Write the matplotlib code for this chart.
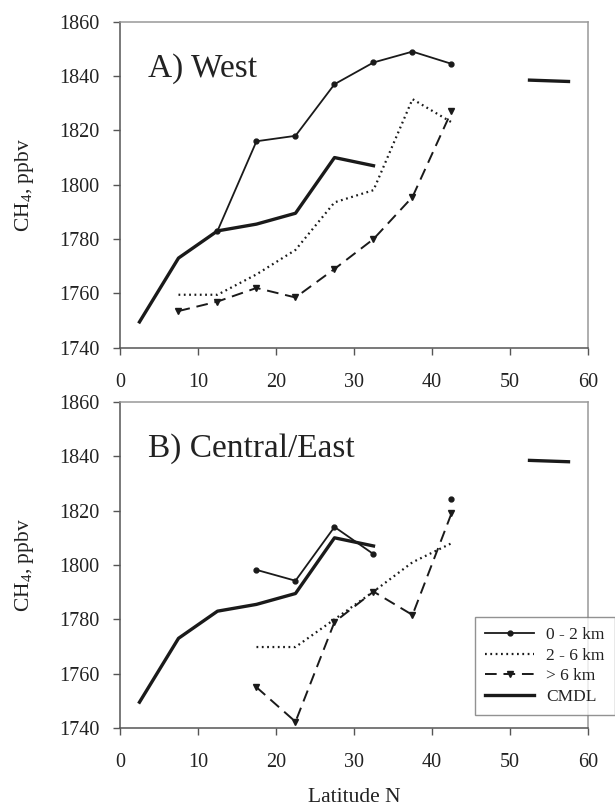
import numpy as np
import matplotlib.pyplot as plt

plt.rcParams['font.family'] = ['Liberation Serif', 'DejaVu Serif']
plt.rcParams['mathtext.fontset'] = 'custom'
plt.rcParams['mathtext.rm'] = 'Liberation Serif'

nan = np.nan
lat = [2.5, 7.5, 12.5, 17.5, 22.5, 27.5, 32.5, 37.5, 42.5, 47.5, 52.5, 57.5]

# CMDL background reference (same for both regions)
cmdl = [1749.5, 1773, 1783, 1785.5, 1789.5, 1810, 1807, nan, nan, nan, 1838.5, 1838]

# West
west_0_2 = [nan, nan, 1783, 1816, 1818, 1837, 1845, 1849, 1844.5, nan, nan, nan]
west_2_6 = [nan, 1759.5, 1759.5, 1767, 1776, 1793.5, 1798, 1831.5, 1823, nan, nan, nan]
west_6up = [nan, 1753.5, 1757, 1762, 1758.5, 1769, 1780, 1795.5, 1827, nan, nan, nan]

# Central/East
east_0_2 = [nan, nan, nan, 1798.2, 1794.2, 1814, 1804, nan, 1824.3, nan, nan, nan]
east_2_6 = [nan, nan, nan, 1769.8, 1769.8, 1780, 1790.2, 1801, 1808, nan, nan, nan]
east_6up = [nan, nan, nan, 1755, 1742.3, 1779, 1790.2, 1781.6, 1819, nan, nan, nan]

labels = ['0 - 2 km', '2 - 6 km', '> 6 km', 'CMDL']
xticks = [0, 10, 20, 30, 40, 50, 60]
yticks = [1740, 1760, 1780, 1800, 1820, 1840, 1860]

fig = plt.figure(figsize=(6.15, 8.07), dpi=100)
axA = fig.add_axes([0.1951, 0.5691, 0.761, 0.404])
axB = fig.add_axes([0.1951, 0.0979, 0.761, 0.404])


def panel(ax, s02, s26, s6, title):
    x = np.array(lat)
    h1, = ax.plot(x, s02, color='#1a1a1a', lw=1.3, marker='o', ms=3.5)
    h2, = ax.plot(x, s26, color='#1a1a1a', lw=1.6, ls=(0, (0.8, 1.6)))
    h3, = ax.plot(x, s6, color='#1a1a1a', lw=1.4, ls=(0, (6, 3.5)),
                  marker='v', ms=4)
    h4, = ax.plot(x, cmdl, color='#1a1a1a', lw=2.4)
    ax.set_xlim(0, 60)
    ax.set_ylim(1740, 1860)
    ax.set_xticks(xticks)
    ax.set_yticks(yticks)
    ax.tick_params(direction='out', length=5, width=1, color='#555555',
                   labelsize=14.5, pad=10, labelcolor='#222222')
    ax.tick_params(axis='x', pad=13)
    for side in ['left', 'bottom']:
        ax.spines[side].set_color('#555555')
        ax.spines[side].set_linewidth(1.1)
    for side in ['top', 'right']:
        ax.spines[side].set_color('#999999')
        ax.spines[side].set_linewidth(1.1)
    ax.set_ylabel('CH$_4$, ppbv', fontsize=15.5, color='#222222')
    ax.yaxis.set_label_coords(-0.18, 0.5)
    ax.text(3.6, 1839.7, title, fontsize=24, color='#222222', va='baseline')
    return [h1, h2, h3, h4]


panel(axA, west_0_2, west_2_6, west_6up, 'A) West')
handles = panel(axB, east_0_2, east_2_6, east_6up, 'B) Central/East')
axB.set_xlabel('Latitude N', fontsize=15.5, color='#222222')
axB.xaxis.set_label_coords(0.5, -0.185)

leg = fig.legend(handles, labels, loc='upper left', bbox_to_anchor=(0.7724, 0.2358),
                 borderaxespad=0, fontsize=12.5, frameon=True, fancybox=False,
                 handlelength=2.8, borderpad=0.6, labelspacing=0.25,
                 handletextpad=0.7)
leg.get_frame().set_edgecolor('#777777')
leg.get_frame().set_linewidth(1)
for t in leg.get_texts():
    t.set_color('#222222')

fig.savefig('out.png', dpi=100)
